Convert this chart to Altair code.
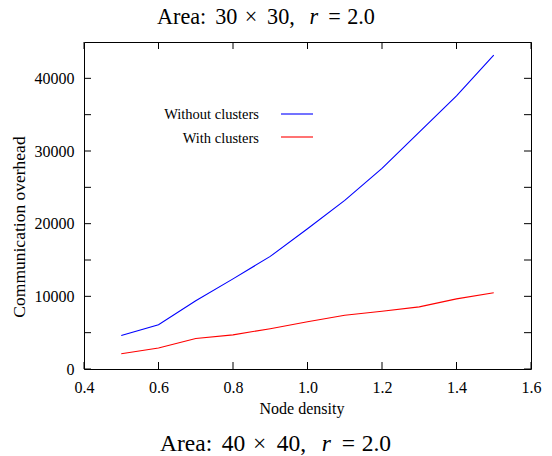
import altair as alt
import pandas as pd

# ---- data ----
density = [0.5, 0.6, 0.7, 0.8, 0.9, 1.0, 1.1, 1.2, 1.3, 1.4, 1.5]
without_clusters = [4600, 6100, 9400, 12400, 15500, 19300, 23200, 27600, 32600, 37600, 43200]
with_clusters = [2100, 2900, 4200, 4700, 5550, 6500, 7400, 7950, 8550, 9650, 10500]
series_names = ["Without clusters", "With clusters"]
series_colors = ["#0000ff", "#ff0000"]
x_ticks = [0.4, 0.6, 0.8, 1.0, 1.2, 1.4, 1.6]
y_ticks = [0, 5000, 10000, 15000, 20000, 25000, 30000, 35000, 40000]
y_labels = [0, 10000, 20000, 30000, 40000]
x_domain = [0.4, 1.6]
y_domain = [0, 45000]
top_title = ["Area:", "30", "\u00d7", "30,", "r", "=", "2.0"]
bottom_title = ["Area:", "40", "\u00d7", "40,", "r", "=", "2.0"]
x_title = "Node density"
y_title = "Communication overhead"

W, H = 447, 327
FONT = "Liberation Serif"
TICK = 7

rows = []
for name, vals in zip(series_names, [without_clusters, with_clusters]):
    for d, v in zip(density, vals):
        rows.append({"x": d, "y": v, "series": name})
df = pd.DataFrame(rows)

xscale = alt.Scale(domain=x_domain, nice=False, zero=False)
yscale = alt.Scale(domain=y_domain, nice=False, zero=False)
xaxis = alt.Axis(values=x_ticks, format=".1f", labelPadding=10, labelFlush=False,
                 ticks=False, domain=False, grid=False)
yaxis = alt.Axis(values=y_labels, format="d", labelPadding=10,
                 ticks=False, domain=False, grid=False)
xenc = alt.X("x:Q", scale=xscale, title=None, axis=xaxis)
yenc = alt.Y("y:Q", scale=yscale, title=None, axis=yaxis)

lines = alt.Chart(df).mark_line(strokeWidth=1.1).encode(
    x=xenc, y=yenc,
    color=alt.Color("series:N", scale=alt.Scale(domain=series_names, range=series_colors),
                    legend=None),
    detail="series:N",
)

xt = pd.DataFrame({"x": x_ticks})
yt = pd.DataFrame({"y": y_ticks})
tick_layers = [
    alt.Chart(xt).mark_rule(color="black", strokeWidth=1).encode(
        x=xenc, y=alt.value(H), y2=alt.value(H - TICK)),
    alt.Chart(xt).mark_rule(color="black", strokeWidth=1).encode(
        x=xenc, y=alt.value(0), y2=alt.value(TICK)),
    alt.Chart(yt).mark_rule(color="black", strokeWidth=1).encode(
        y=yenc, x=alt.value(0), x2=alt.value(TICK)),
    alt.Chart(yt).mark_rule(color="black", strokeWidth=1).encode(
        y=yenc, x=alt.value(W - TICK), x2=alt.value(W)),
]

def text_layer(txt, x, y, size, align="center", baseline="alphabetic", style="normal", angle=0):
    kw = dict(font=FONT, fontSize=size, align=align, baseline=baseline,
              fontStyle=style, color="black")
    if angle:
        kw["angle"] = angle
    return alt.Chart(pd.DataFrame({"t": [txt]})).mark_text(**kw).encode(
        text="t:N", x=alt.value(x), y=alt.value(y))

OX, OY = 84, 42  # plot origin on page
texts = []
# left edges (page px) of the title pieces, LaTeX-like spacing
bottom_x = [160, 221.7, 253, 276.7, 321.7, 341.7, 361.7]
top_x = [157 + (bx - 160) * 0.943 for bx in bottom_x]
for piece, px in zip(top_title, top_x):
    texts.append(text_layer(piece, px - OX, 24 - OY, 22.2, align="left",
                            style="italic" if piece == "r" else "normal"))
for piece, px in zip(bottom_title, bottom_x):
    texts.append(text_layer(piece, px - OX, 451 - OY, 23.5, align="left",
                            style="italic" if piece == "r" else "normal"))
texts.append(text_layer(x_title, 302 - OX, 414 - OY, 16))
texts.append(text_layer(y_title, 25 - OX, 227 - OY, 17.5, angle=270))

legend_layers = []
for i, (name, col) in enumerate(zip(series_names, series_colors)):
    ty = 119 - OY + i * 23.5
    ly = 114 - OY + i * 23
    legend_layers.append(text_layer(name, 259 - OX, ty, 14.5, align="right"))
    legend_layers.append(
        alt.Chart(pd.DataFrame({"n": [name]})).mark_rule(color=col, strokeWidth=1.1).encode(
            x=alt.value(281 - OX), x2=alt.value(313 - OX), y=alt.value(ly)))

chart = alt.layer(lines, *tick_layers, *texts, *legend_layers).properties(
    width=W, height=H,
    autosize=alt.AutoSizeParams(type="none"),
    padding={"left": 76, "top": 34, "right": 13, "bottom": 87},
).configure_view(
    stroke="black", strokeWidth=1
).configure_axis(
    labelFont=FONT, labelFontSize=16, labelColor="black"
)

chart.save("out.html", embed_options={"renderer": "svg", "actions": False})
